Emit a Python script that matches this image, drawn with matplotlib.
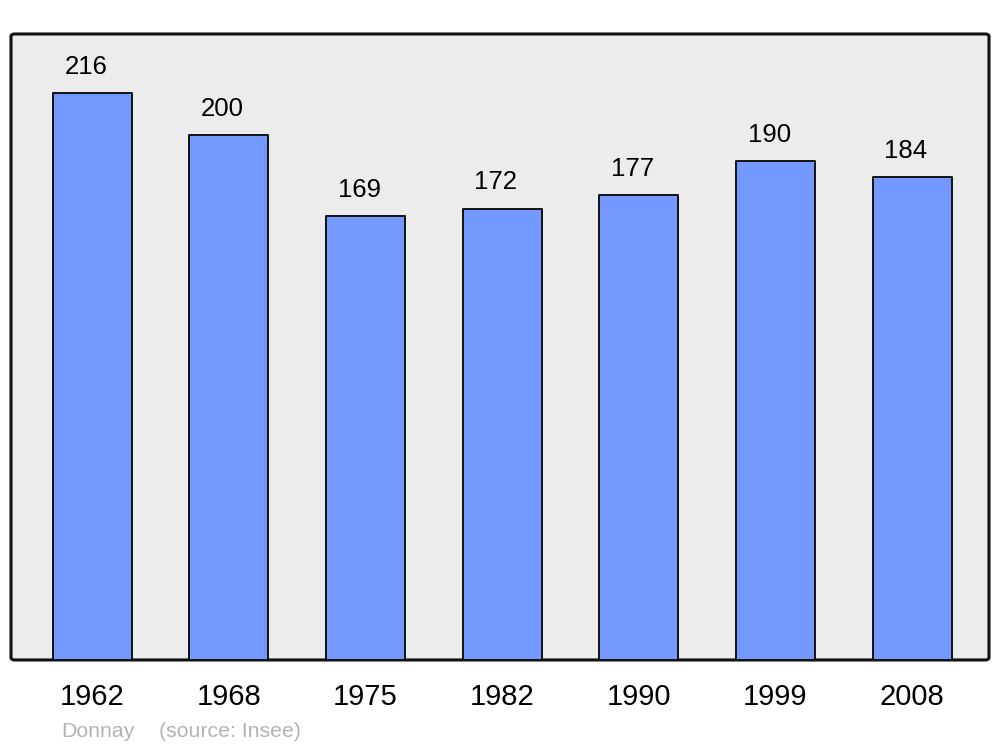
import matplotlib.pyplot as plt
from matplotlib.patches import FancyBboxPatch

years = ['1962', '1968', '1975', '1982', '1990', '1999', '2008']
population = [216, 200, 169, 172, 177, 190, 184]

plt.rcParams['font.family'] = ['Liberation Sans', 'DejaVu Sans']

fig = plt.figure(figsize=(10, 7.47), dpi=100)
ax = fig.add_axes([0.011, 0.1165, 0.978, 0.838])
ax.set_facecolor('none')

# rounded frame with grey background
frame = FancyBboxPatch((0, 0), 1, 1, boxstyle='round,pad=0,rounding_size=0.004',
                       transform=ax.transAxes, facecolor='#ececec',
                       edgecolor='#111111', linewidth=2.2, zorder=0, clip_on=False)
ax.add_patch(frame)

x = range(len(years))
bars = ax.bar(x, population, width=0.578, color='#7399ff', edgecolor='#111111',
              linewidth=1.4, zorder=2)
for b in bars:
    b.set_joinstyle('round')

for i, v in zip(x, population):
    ax.annotate(str(v), (i, v), xytext=(-4.5, 14), textcoords='offset points',
                ha='center', va='baseline', fontsize=18.5)

ax.set_xlim(-0.593, 6.563)
ax.set_ylim(0, 238.5)
ax.set_xticks(list(x))
ax.set_xticklabels(years, fontsize=21)
ax.tick_params(axis='x', length=0, pad=16.5)
ax.set_yticks([])
for s in ax.spines.values():
    s.set_visible(False)

fig.text(0.061, 0.0134, 'Donnay', color='#b3b3b3', fontsize=15.3,
         ha='left', va='baseline')
fig.text(0.159, 0.0134, '(source: Insee)', color='#b3b3b3', fontsize=15.3,
         ha='left', va='baseline')

fig.savefig('out.png', dpi=100, facecolor='white')
